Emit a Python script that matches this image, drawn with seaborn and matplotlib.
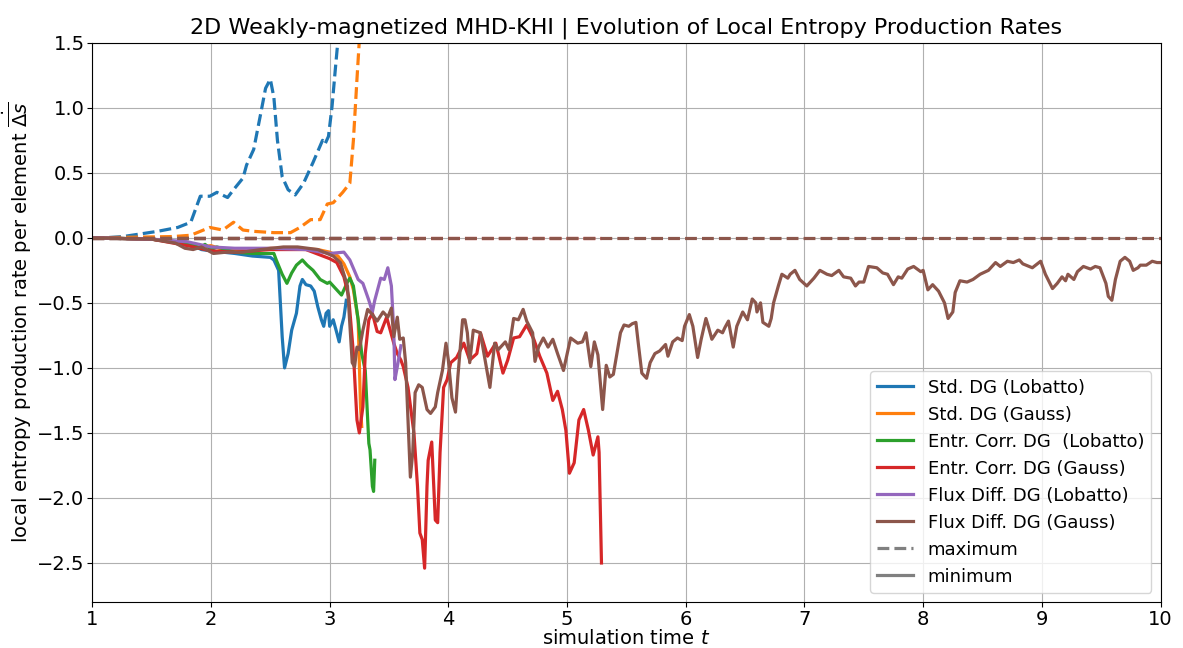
import numpy as np
import matplotlib
matplotlib.use("Agg")
import matplotlib.pyplot as plt
from matplotlib.lines import Line2D
import seaborn as sns

# --- data (time t, local entropy production rate) ---
labels = ["Std. DG (Lobatto)", "Std. DG (Gauss)", "Entr. Corr. DG  (Lobatto)",
          "Entr. Corr. DG (Gauss)", "Flux Diff. DG (Lobatto)", "Flux Diff. DG (Gauss)"]

# maxima (dashed)
std_lob_max_t = [1.0, 1.1, 1.26, 1.55, 1.72, 1.83, 1.91, 1.99, 2.05, 2.14, 2.19, 2.27, 2.30, 2.36,
                 2.42, 2.46, 2.50, 2.53, 2.56, 2.60, 2.65, 2.71, 2.78, 2.86, 2.94, 2.96, 2.99,
                 3.02, 3.05, 3.07, 3.10]
std_lob_max_v = [0.0, 0.0, 0.01, 0.05, 0.08, 0.12, 0.32, 0.32, 0.35, 0.31, 0.37, 0.46, 0.56, 0.68,
                 0.96, 1.15, 1.22, 1.08, 0.75, 0.47, 0.37, 0.33, 0.42, 0.58, 0.75, 0.72, 0.78,
                 1.01, 1.32, 1.52, 2.0]
std_gau_max_t = [1.0, 1.68, 1.83, 1.91, 1.99, 2.10, 2.19, 2.27, 2.36, 2.53, 2.67, 2.75, 2.84, 2.92,
                 2.98, 3.03, 3.11, 3.17, 3.20, 3.23, 3.25, 3.28]
std_gau_max_v = [0.0, 0.01, 0.02, 0.05, 0.08, 0.06, 0.12, 0.06, 0.05, 0.04, 0.04, 0.08, 0.14, 0.14,
                 0.26, 0.27, 0.35, 0.42, 0.75, 1.22, 1.52, 2.0]
ec_lob_max_t = [1.0, 3.38]
ec_lob_max_v = [0.0, 0.0]
ec_gau_max_t = [1.0, 5.29]
ec_gau_max_v = [0.0, 0.0]
fd_lob_max_t = [1.0, 3.6]
fd_lob_max_v = [0.0, 0.0]
fd_gau_max_t = [1.0, 10.0]
fd_gau_max_v = [0.0, 0.0]

# minima (solid)
std_lob_min_t = [1.0, 1.5, 1.75, 1.85, 1.92, 2.0, 2.2, 2.35, 2.5, 2.53, 2.57, 2.6, 2.62, 2.65, 2.68,
                 2.72, 2.75, 2.77, 2.8, 2.84, 2.87, 2.9, 2.93, 2.95, 2.97, 2.99, 3.0, 3.03, 3.06,
                 3.08, 3.1, 3.12, 3.14]
std_lob_min_v = [0.0, -0.01, -0.04, -0.06, -0.09, -0.1, -0.12, -0.14, -0.15, -0.17, -0.25, -0.76,
                 -1.0, -0.89, -0.71, -0.58, -0.37, -0.32, -0.36, -0.37, -0.41, -0.53, -0.63, -0.68,
                 -0.58, -0.56, -0.68, -0.63, -0.73, -0.80, -0.68, -0.61, -0.48]
std_gau_min_t = [1.0, 1.5, 1.8, 1.9, 2.0, 2.1, 2.3, 2.5, 2.7, 2.9, 3.0, 3.07, 3.12, 3.17, 3.2, 3.24,
                 3.26, 3.27]
std_gau_min_v = [0.0, -0.01, -0.04, -0.07, -0.06, -0.09, -0.1, -0.08, -0.08, -0.09, -0.11, -0.14,
                 -0.2, -0.3, -0.4, -0.63, -1.3, -1.45]
ec_lob_min_t = [1.0, 1.5, 1.75, 1.85, 1.9, 1.95, 2.0, 2.05, 2.2, 2.35, 2.5, 2.53, 2.55, 2.6, 2.64,
                2.68, 2.72, 2.77, 2.81, 2.86, 2.92, 2.98, 3.0, 3.06, 3.1, 3.15, 3.17, 3.2, 3.24,
                3.27, 3.3, 3.33, 3.34, 3.36, 3.37, 3.38]
ec_lob_min_v = [0.0, -0.01, -0.04, -0.05, -0.08, -0.05, -0.09, -0.07, -0.11, -0.12, -0.12, -0.12,
                -0.17, -0.28, -0.35, -0.27, -0.21, -0.17, -0.21, -0.25, -0.32, -0.35, -0.34,
                -0.40, -0.44, -0.34, -0.31, -0.37, -0.63, -0.89, -1.02, -1.58, -1.63, -1.91,
                -1.95, -1.71]
ec_gau_min_t = [1.0, 1.5, 1.8, 2.0, 2.2, 2.5, 2.8, 3.0, 3.06, 3.12, 3.16, 3.2, 3.23, 3.25, 3.28,
                3.3, 3.33, 3.36, 3.4, 3.43, 3.48, 3.54, 3.57, 3.6, 3.62, 3.66, 3.71, 3.74, 3.76,
                3.78, 3.8, 3.82, 3.83, 3.86, 3.89, 3.91, 3.93, 3.96, 3.99, 4.02, 4.07, 4.13,
                4.18, 4.24, 4.27, 4.33, 4.4, 4.46, 4.5, 4.55, 4.6, 4.66, 4.72, 4.77, 4.83, 4.88,
                4.92, 4.96, 4.99, 5.02, 5.06, 5.1, 5.14, 5.18, 5.22, 5.26, 5.27, 5.29]
ec_gau_min_v = [0.0, -0.01, -0.06, -0.1, -0.11, -0.09, -0.09, -0.16, -0.19, -0.30, -0.45, -0.89,
                -1.4, -1.5, -1.3, -0.89, -0.63, -0.58, -0.72, -0.73, -0.61, -0.81, -0.89, -0.94,
                -0.99, -1.15, -1.5, -1.91, -2.27, -2.32, -2.54, -1.91, -1.71, -1.57, -2.17,
                -2.19, -1.65, -1.15, -1.09, -0.96, -0.92, -0.81, -0.94, -0.89, -0.73, -0.91,
                -0.81, -1.04, -0.94, -0.77, -0.76, -0.67, -0.78, -0.91, -1.04, -1.25, -1.18,
                -1.32, -1.48, -1.81, -1.73, -1.4, -1.32, -1.48, -1.67, -1.53, -1.65, -2.5]
fd_lob_min_t = [1.0, 1.5, 1.8, 1.9, 2.0, 2.2, 2.5, 2.8, 3.0, 3.12, 3.17, 3.24, 3.28, 3.33, 3.36,
                3.38, 3.43, 3.46, 3.49, 3.52, 3.54, 3.55, 3.57, 3.6]
fd_lob_min_v = [0.0, -0.01, -0.03, -0.05, -0.07, -0.08, -0.08, -0.09, -0.12, -0.11, -0.17, -0.32,
                -0.35, -0.48, -0.57, -0.48, -0.31, -0.32, -0.23, -0.37, -0.71, -1.09, -0.99, -0.83]
fd_gau_min_t = [1.0, 1.5, 1.7, 1.78, 1.85, 1.92, 2.02, 2.13, 2.27, 2.42, 2.61, 2.73, 2.9, 3.03,
                3.09, 3.15, 3.19, 3.21, 3.23, 3.25, 3.28, 3.32, 3.36, 3.40, 3.45, 3.49, 3.52, 3.54,
                3.57, 3.59, 3.62, 3.64, 3.66, 3.68, 3.70, 3.72, 3.75, 3.78, 3.82, 3.85, 3.89,
                3.91, 3.95, 3.98, 4.0, 4.03, 4.06, 4.08, 4.12, 4.14, 4.16, 4.18, 4.21, 4.27, 4.3,
                4.35, 4.39, 4.42, 4.48, 4.51, 4.55, 4.59, 4.63, 4.66, 4.71, 4.73, 4.76, 4.8,
                4.84, 4.88, 4.92, 4.97, 5.03, 5.09, 5.13, 5.16, 5.2, 5.23, 5.26, 5.3, 5.33, 5.36,
                5.39, 5.42, 5.45, 5.48, 5.52, 5.55, 5.58, 5.6, 5.63, 5.67, 5.7, 5.74, 5.78, 5.83,
                5.85, 5.89, 5.93, 5.97, 5.99, 6.03, 6.06, 6.1, 6.13, 6.17, 6.19, 6.22, 6.27,
                6.31, 6.33, 6.36, 6.4, 6.43, 6.48, 6.52, 6.56, 6.59, 6.6, 6.63, 6.65, 6.7, 6.72,
                6.74, 6.78, 6.81, 6.86, 6.88, 6.92, 6.96, 7.02, 7.08, 7.13, 7.19, 7.23, 7.29,
                7.33, 7.39, 7.43, 7.46, 7.5, 7.54, 7.61, 7.66, 7.7, 7.75, 7.79, 7.82, 7.87, 7.92,
                7.98, 8.0, 8.04, 8.08, 8.13, 8.18, 8.21, 8.25, 8.27, 8.31, 8.37, 8.42, 8.48,
                8.55, 8.61, 8.65, 8.71, 8.76, 8.81, 8.84, 8.92, 8.99, 9.03, 9.09, 9.13, 9.17,
                9.2, 9.22, 9.27, 9.3, 9.35, 9.41, 9.45, 9.49, 9.54, 9.56, 9.59, 9.62, 9.66, 9.7,
                9.74, 9.77, 9.81, 9.83, 9.88, 9.93, 9.97, 10.0]
fd_gau_min_v = [0.0, -0.01, -0.04, -0.08, -0.09, -0.07, -0.12, -0.11, -0.11, -0.09, -0.07, -0.07,
                -0.09, -0.14, -0.19, -0.37, -0.96, -0.99, -0.84, -0.86, -0.71, -0.55, -0.59,
                -0.64, -0.57, -0.61, -0.54, -0.76, -0.61, -0.78, -0.77, -0.96, -1.4, -1.84,
                -1.65, -1.19, -1.13, -1.15, -1.32, -1.35, -1.3, -1.19, -1.02, -0.81, -0.94,
                -1.23, -1.34, -1.07, -0.63, -0.63, -0.73, -0.96, -0.71, -0.73, -0.89, -1.15,
                -0.81, -0.86, -0.80, -0.86, -0.62, -0.63, -0.55, -0.64, -0.73, -0.95, -0.84,
                -0.77, -0.84, -0.78, -0.89, -1.02, -0.77, -0.81, -0.80, -0.73, -0.99, -0.80,
                -0.9, -1.32, -0.98, -1.07, -1.05, -0.89, -0.73, -0.67, -0.68, -0.66, -0.65,
                -0.81, -1.04, -1.08, -0.96, -0.89, -0.87, -0.82, -0.91, -0.80, -0.77, -0.79,
                -0.68, -0.59, -0.68, -0.92, -0.78, -0.62, -0.68, -0.78, -0.71, -0.73, -0.69,
                -0.64, -0.84, -0.68, -0.57, -0.63, -0.47, -0.5, -0.57, -0.5, -0.65, -0.68, -0.62,
                -0.5, -0.37, -0.28, -0.31, -0.28, -0.25, -0.32, -0.37, -0.31, -0.25, -0.28,
                -0.29, -0.25, -0.30, -0.31, -0.37, -0.34, -0.34, -0.22, -0.23, -0.27, -0.28,
                -0.36, -0.30, -0.31, -0.24, -0.22, -0.26, -0.25, -0.4, -0.36, -0.41, -0.5,
                -0.62, -0.57, -0.42, -0.33, -0.34, -0.32, -0.28, -0.25, -0.19, -0.22, -0.18,
                -0.19, -0.17, -0.20, -0.23, -0.18, -0.28, -0.39, -0.35, -0.30, -0.33, -0.28,
                -0.32, -0.26, -0.22, -0.24, -0.22, -0.23, -0.35, -0.45, -0.48, -0.32, -0.18,
                -0.15, -0.18, -0.25, -0.23, -0.21, -0.21, -0.18, -0.19, -0.19]

maxima = [(std_lob_max_t, std_lob_max_v), (std_gau_max_t, std_gau_max_v),
          (ec_lob_max_t, ec_lob_max_v), (ec_gau_max_t, ec_gau_max_v),
          (fd_lob_max_t, fd_lob_max_v), (fd_gau_max_t, fd_gau_max_v)]
minima = [(std_lob_min_t, std_lob_min_v), (std_gau_min_t, std_gau_min_v),
          (ec_lob_min_t, ec_lob_min_v), (ec_gau_min_t, ec_gau_min_v),
          (fd_lob_min_t, fd_lob_min_v), (fd_gau_min_t, fd_gau_min_v)]

colors = sns.color_palette("tab10", 6)

fig, ax = plt.subplots(figsize=(11.83, 6.48), dpi=100)
fig.subplots_adjust(left=0.078, right=0.981, top=0.934, bottom=0.071)

for i in range(6):
    tx, vx = maxima[i]
    tn, vn = minima[i]
    sns.lineplot(x=tx, y=vx, color=colors[i], linestyle="--", lw=2.3, ax=ax,
                 estimator=None, sort=False)
    sns.lineplot(x=tn, y=vn, color=colors[i], linestyle="-", lw=2.3, ax=ax,
                 estimator=None, sort=False)

ax.set_xlim(1, 10)
ax.set_ylim(-2.8, 1.5)
ax.set_xticks(range(1, 11))
ax.set_yticks(np.arange(-2.5, 1.51, 0.5))
ax.tick_params(labelsize=14, pad=2)
ax.grid(True)

ax.set_title("2D Weakly-magnetized MHD-KHI | Evolution of Local Entropy Production Rates",
             fontsize=16, pad=7)
ax.set_xlabel("simulation time $t$", fontsize=14, labelpad=0)
ax.set_ylabel(r"local entropy production rate per element $\dot{\overline{\Delta s}}$",
              fontsize=14, labelpad=2)

handles = [Line2D([0], [0], color=colors[i], lw=2.3) for i in range(6)]
handles.append(Line2D([0], [0], color="gray", lw=2.3, linestyle="--"))
handles.append(Line2D([0], [0], color="gray", lw=2.3))
ax.legend(handles, labels + ["maximum", "minimum"], loc="lower right", fontsize=13)

fig.savefig("out.png", dpi=100)
